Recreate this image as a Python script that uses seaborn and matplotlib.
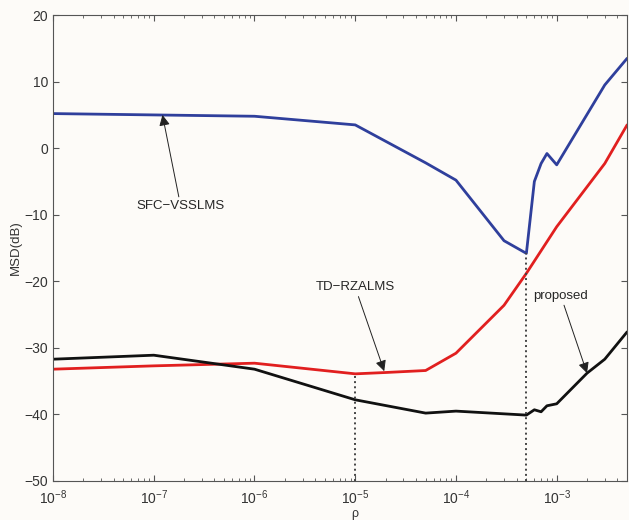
import numpy as np
import pandas as pd
import matplotlib
matplotlib.use("Agg")
import matplotlib.pyplot as plt
import seaborn as sns

# ---- data ----
rho_blue = [1e-8, 1e-7, 1e-6, 1e-5, 5e-5, 1e-4, 3e-4, 5e-4, 6e-4, 7e-4, 8e-4, 1e-3, 3e-3, 5e-3]
msd_blue = [5.2, 5.0, 4.8, 3.5, -2.2, -4.8, -13.9, -15.8, -5.0, -2.3, -0.8, -2.5, 9.5, 13.5]

rho_red = [1e-8, 1e-7, 1e-6, 1e-5, 2e-5, 5e-5, 1e-4, 3e-4, 5e-4, 1e-3, 3e-3, 5e-3]
msd_red = [-33.2, -32.7, -32.3, -33.9, -33.7, -33.4, -30.8, -23.6, -18.8, -11.8, -2.3, 3.5]

rho_black = [1e-8, 1e-7, 1e-6, 1e-5, 5e-5, 1e-4, 5e-4, 6e-4, 7e-4, 8e-4, 1e-3, 2e-3, 3e-3, 5e-3]
msd_black = [-31.7, -31.1, -33.2, -37.8, -39.8, -39.5, -40.1, -39.3, -39.6, -38.7, -38.4, -33.8, -31.7, -27.6]

series_names = ["SFC-VSSLMS", "TD-RZALMS", "proposed"]
series_colors = ["#2f3f9c", "#e11f1f", "#111111"]

yticks = [-50, -40, -30, -20, -10, 0, 10, 20]

# ---- style ----
sns.set_style("ticks")
plt.rcParams["font.family"] = ["Liberation Sans", "DejaVu Sans"]
plt.rcParams["mathtext.default"] = "regular"
plt.rcParams["xtick.direction"] = "in"
plt.rcParams["ytick.direction"] = "in"
plt.rcParams["xtick.top"] = True
plt.rcParams["ytick.right"] = True

bg = "#fdfbf8"
fig = plt.figure(figsize=(6.29, 5.20), dpi=100, facecolor=bg)
ax = fig.add_axes([0.0843, 0.075, 0.9127, 0.896])
ax.set_facecolor(bg)

df = pd.concat([
    pd.DataFrame({"rho": rho_blue, "msd": msd_blue, "alg": series_names[0]}),
    pd.DataFrame({"rho": rho_red, "msd": msd_red, "alg": series_names[1]}),
    pd.DataFrame({"rho": rho_black, "msd": msd_black, "alg": series_names[2]}),
], ignore_index=True)

sns.lineplot(data=df, x="rho", y="msd", hue="alg",
             palette=dict(zip(series_names, series_colors)),
             estimator=None, sort=False, linewidth=2, legend=False, ax=ax)

ax.set_xscale("log")
ax.set_xlim(1e-8, 5e-3)
ax.set_ylim(-50, 20)
ax.set_yticks(yticks)
ax.set_xticks([1e-8, 1e-7, 1e-6, 1e-5, 1e-4, 1e-3])

# dotted markers
ax.plot([1e-5, 1e-5], [-50, msd_red[3]], ls=":", color="#444444", lw=1.4)
ax.plot([5e-4, 5e-4], [-50, msd_blue[7]], ls=":", color="#444444", lw=1.4)

# annotations
ap = dict(arrowstyle="-|>", color="#222222", lw=0.7, mutation_scale=16,
          shrinkA=0, shrinkB=0)
ax.annotate("SFC\u2212VSSLMS", xy=(1.22e-7, 5.0), xytext=(1.85e-7, -8.7),
            ha="center", va="center", fontsize=9.5, arrowprops=ap)
ax.annotate("TD\u2212RZALMS", xy=(1.94e-5, -33.5), xytext=(1.0e-5, -20.9),
            ha="center", va="center", fontsize=9.5, arrowprops=ap)
ax.annotate("proposed", xy=(2.0e-3, -33.8), xytext=(1.1e-3, -22.2),
            ha="center", va="center", fontsize=9.5, arrowprops=ap)

for s in ax.spines.values():
    s.set_color("#555555")
    s.set_linewidth(0.8)
ax.tick_params(which="both", colors="#555555", labelcolor="#333333", labelsize=10)
ax.tick_params(which="major", length=4)
ax.tick_params(which="minor", length=2.5)
ax.tick_params(axis="x", which="both", pad=5)

ax.set_xlabel("\u03c1", fontsize=9, color="#333333", labelpad=1)
ax.xaxis.set_label_coords((355 - 53) / 574, -0.058)
ax.set_ylabel("MSD(dB)", fontsize=9.5, color="#333333", labelpad=2)

fig.savefig("out.png", dpi=100, facecolor=bg)
